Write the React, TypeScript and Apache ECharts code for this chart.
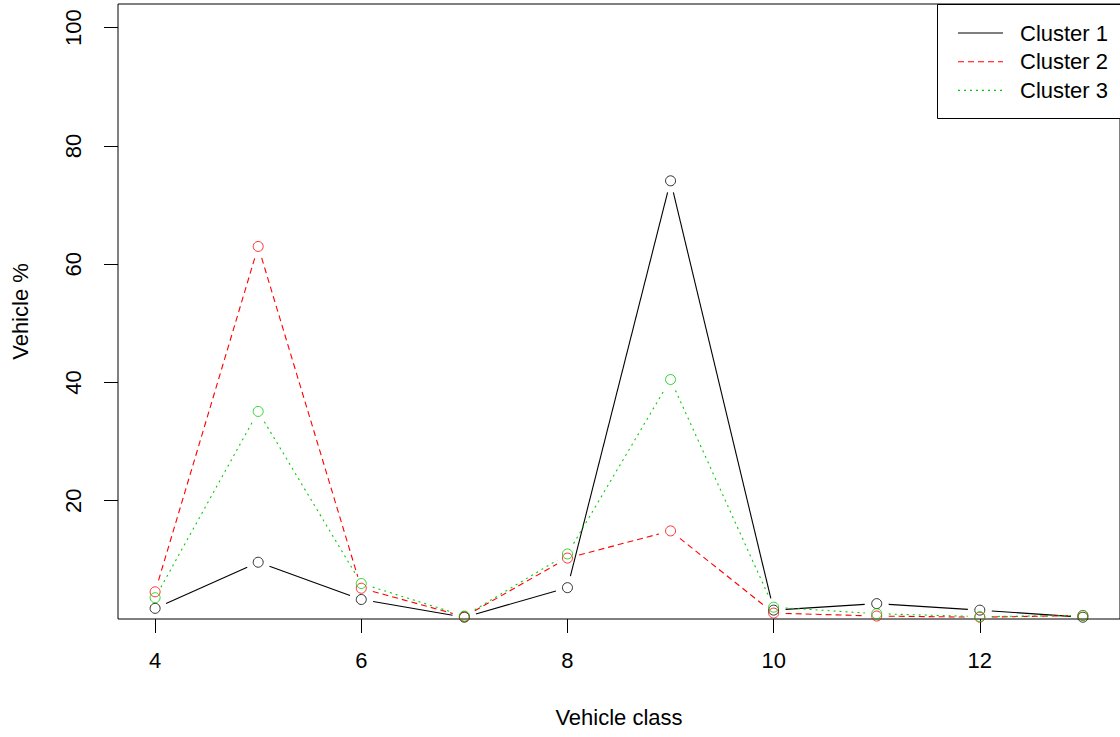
import React, { useEffect, useRef } from "react";
import * as echarts from "echarts";

const vehicleClass = [4, 5, 6, 7, 8, 9, 10, 11, 12, 13];
const cluster1 = [1.8, 9.6, 3.3, 0.3, 5.3, 74.1, 1.5, 2.6, 1.5, 0.3];
const cluster2 = [4.6, 63.0, 5.2, 0.4, 10.3, 14.9, 1.0, 0.5, 0.3, 0.6];
const cluster3 = [3.6, 35.1, 6.0, 0.5, 11.0, 40.5, 2.0, 0.9, 0.4, 0.6];
const xTicks = [4, 6, 8, 10, 12];
const yTicks = [20, 40, 60, 80, 100];
const seriesNames = ["Cluster 1", "Cluster 2", "Cluster 3"];
const seriesColors = ["#000000", "#FF0000", "#00CD00"];
const seriesDash: any[] = [null, [6, 4], [2, 4]];

const FONT = "'Liberation Sans', Arial, sans-serif";
const GAP = 12;

export default function App() {
  const ref = useRef<HTMLDivElement>(null);
  useEffect(() => {
    if (!ref.current) return;
    const chart = echarts.init(ref.current, null, { renderer: "svg" });
    const values = [cluster1, cluster2, cluster3];
    const series: any[] = [];
    values.forEach((vals, i) => {
      const data = vehicleClass.map((x, j) => [x, vals[j]]);
      // line segments with gaps around the points (R type = "b")
      series.push({
        name: seriesNames[i],
        type: "custom",
        data,
        encode: { x: 0, y: 1 },
        z: 2 + i,
        renderItem: (params: any, api: any) => {
          const j = params.dataIndex;
          if (j >= data.length - 1) return null;
          const p0 = api.coord(data[j]);
          const p1 = api.coord(data[j + 1]);
          const dx = p1[0] - p0[0];
          const dy = p1[1] - p0[1];
          const len = Math.sqrt(dx * dx + dy * dy);
          if (len <= 2 * GAP) return null;
          const ux = dx / len;
          const uy = dy / len;
          return {
            type: "line",
            shape: {
              x1: p0[0] + ux * GAP,
              y1: p0[1] + uy * GAP,
              x2: p1[0] - ux * GAP,
              y2: p1[1] - uy * GAP,
            },
            style: {
              stroke: seriesColors[i],
              lineWidth: 1.1,
              lineDash: seriesDash[i],
              fill: null,
            },
          };
        },
      });
      series.push({
        name: seriesNames[i],
        type: "scatter",
        data,
        symbol: "circle",
        symbolSize: 10,
        itemStyle: { color: "transparent", borderColor: seriesColors[i], borderWidth: 1 },
        z: 5 + i,
      });
    });
    const legendGraphics: any[] = [
      {
        type: "rect",
        shape: { x: 937.5, y: 4.5, width: 200, height: 114 },
        style: { fill: "#fff", stroke: "#000", lineWidth: 1 },
        z: 100,
      },
    ];
    seriesNames.forEach((name, i) => {
      const y = 33 + i * 28.7;
      legendGraphics.push({
        type: "line",
        shape: { x1: 958, y1: y, x2: 1003, y2: y },
        style: {
          stroke: seriesColors[i],
          lineWidth: 1.1,
          lineDash: seriesDash[i],
        },
        z: 101,
      });
      legendGraphics.push({
        type: "text",
        x: 1020,
        y: y,
        style: {
          text: name,
          fill: "#000",
          font: `22px ${FONT}`,
          verticalAlign: "middle",
        },
        z: 101,
      });
    });
    chart.setOption({
      animation: false,
      backgroundColor: "#fff",
      textStyle: { fontFamily: FONT },
      grid: {
        show: true,
        left: 118,
        top: 4,
        width: 1007,
        height: 615,
        borderColor: "#000",
        borderWidth: 1,
        backgroundColor: "transparent",
      },
      xAxis: {
        type: "value",
        min: 3.64,
        max: 13.36,
        name: "Vehicle class",
        nameLocation: "middle",
        nameGap: 87,
        nameTextStyle: { fontSize: 22, color: "#000", fontFamily: FONT },
        axisLine: { show: false },
        splitLine: { show: false },
        axisTick: {
          show: true,
          inside: false,
          length: 14,
          lineStyle: { color: "#000", width: 1 },
          customValues: xTicks,
        },
        axisLabel: {
          fontSize: 22,
          color: "#000",
          margin: 30,
          fontFamily: FONT,
          customValues: xTicks,
        },
      },
      yAxis: {
        type: "value",
        min: 0,
        max: 104,
        name: "Vehicle %",
        nameLocation: "middle",
        nameGap: 87,
        nameRotate: 90,
        nameTextStyle: { fontSize: 22, color: "#000", fontFamily: FONT },
        axisLine: { show: false },
        splitLine: { show: false },
        axisTick: {
          show: true,
          inside: false,
          length: 14,
          lineStyle: { color: "#000", width: 1 },
          customValues: yTicks,
        },
        axisLabel: {
          fontSize: 22,
          color: "#000",
          rotate: 90,
          margin: 34,
          fontFamily: FONT,
          customValues: yTicks,
        },
      },
      series,
      graphic: legendGraphics,
    });
    return () => chart.dispose();
  }, []);
  return (
    <div
      ref={ref}
      style={{ position: "fixed", left: 0, top: 0, width: 1120, height: 737, background: "#fff" }}
    />
  );
}
